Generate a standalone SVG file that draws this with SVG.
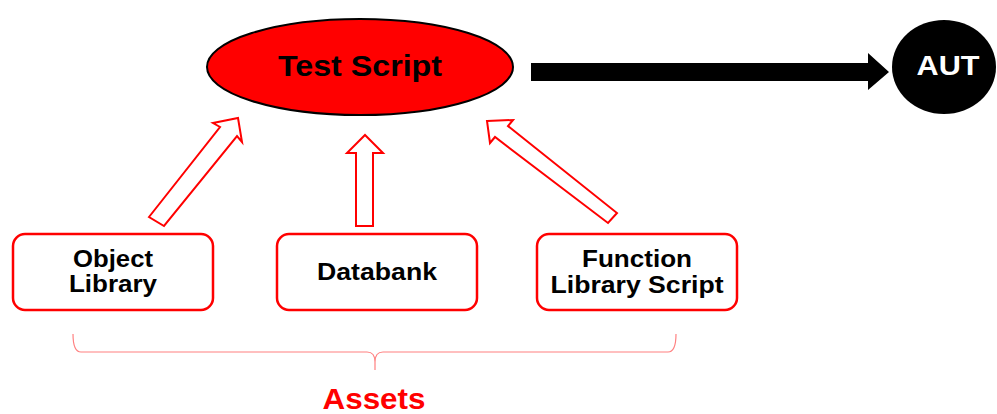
<svg xmlns="http://www.w3.org/2000/svg" width="997" height="414" viewBox="0 0 997 414">
<style>
.box{fill:#fff;stroke:#ff0000;stroke-width:2.5}
.lbl{font-family:"Liberation Sans",Arial,sans-serif;font-weight:bold;font-size:23px;fill:#000;text-anchor:middle}
.big{font-family:"Liberation Sans",Arial,sans-serif;font-weight:bold;text-anchor:middle}
.hollow{fill:#fff;stroke:#ff0000;stroke-width:2;stroke-linejoin:miter}
</style>
<rect width="997" height="414" fill="#fff"/>
<g id="test-script">
<ellipse cx="360" cy="67" rx="153" ry="48" fill="#ff0000" stroke="#000" stroke-width="2"/>
<text class="big" x="360" y="76" font-size="29" textLength="164" lengthAdjust="spacingAndGlyphs">Test Script</text>
</g>
<g id="aut">
<ellipse cx="944" cy="67" rx="52" ry="47" fill="#000"/>
<text class="big" x="948" y="75" font-size="27" fill="#fff" textLength="63" lengthAdjust="spacingAndGlyphs">AUT</text>
</g>
<g id="object-library">
<rect class="box" x="13" y="234" width="200" height="76" rx="12"/>
<text class="lbl" x="113" y="267" font-size="22" textLength="80" lengthAdjust="spacingAndGlyphs">Object</text>
<text class="lbl" x="113" y="292" font-size="22" textLength="88" lengthAdjust="spacingAndGlyphs">Library</text>
</g>
<g id="databank">
<rect class="box" x="277" y="234" width="200" height="76" rx="12"/>
<text class="lbl" x="377" y="280" font-size="24" textLength="120" lengthAdjust="spacingAndGlyphs">Databank</text>
</g>
<g id="function-library">
<rect class="box" x="537" y="234" width="200" height="76" rx="12"/>
<text class="lbl" x="637" y="267" textLength="110" lengthAdjust="spacingAndGlyphs">Function</text>
<text class="lbl" x="637" y="293" textLength="173" lengthAdjust="spacingAndGlyphs">Library Script</text>
</g>
<g id="assets">
<path d="M73,334 Q73,352 81,352 L367,352 Q375,352 375,362 L375,370 M375,362 Q375,352 383,352 L668,352 Q676,352 676,334" fill="none" stroke="#ff8080" stroke-width="1.2"/>
<text class="big" x="374" y="409" font-size="29" fill="#ff0000" textLength="103" lengthAdjust="spacingAndGlyphs">Assets</text>
</g>
<g id="connectors">
<polygon points="531,63 868,63 868,53 889,72 868,90 868,81 531,81" fill="#000"/>
<polygon class="hollow" points="149,217 220,127 213,123 238,118 242,142 237,136 164,226"/>
<polygon class="hollow" points="356,226 356,153 347,153 365,135 383,153 373,153 373,226"/>
<polygon class="hollow" points="487,121 513,120 508,126 617,213 608,223 495,137 490,143"/>
</g>
</svg>
